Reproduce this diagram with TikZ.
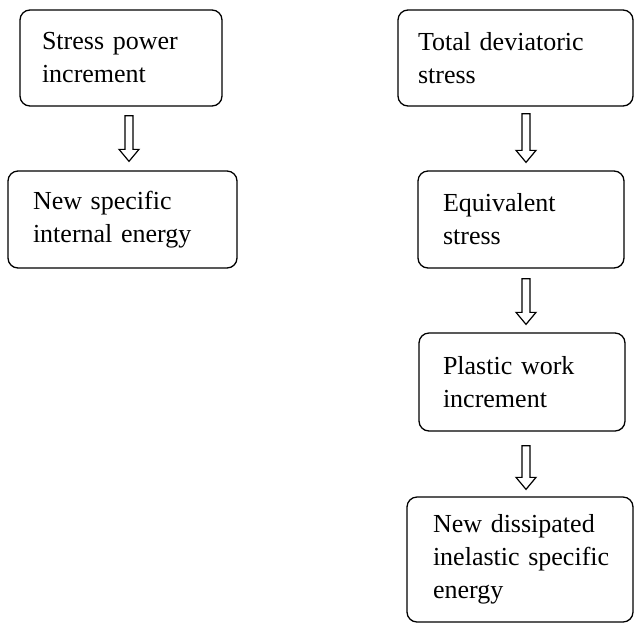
\documentclass[tikz,border=0pt]{standalone}
\usepackage{fontspec}
\setmainfont{Liberation Serif}
\usetikzlibrary{calc}
\newcommand\harrow[2]{%
  \draw[harrowline] let \p1=(#1), \p2=(#2) in
    (\x1-4pt,\y1) -- (\x1-4pt,\y2+12pt) -- (\x1-10pt,\y2+12pt) -- (\x1,\y2)
    -- (\x1+10pt,\y2+12pt) -- (\x1+4pt,\y2+12pt) -- (\x1+4pt,\y1) -- cycle;}
\begin{document}
\begin{tikzpicture}[x=1pt,y=-1pt,
  box/.style={draw, line width=1.3pt, rounded corners=10pt, align=left,
    font=\fontsize{26}{33}\selectfont},
  harrowline/.style={draw, line width=1.2pt, line join=miter}]
\useasboundingbox (0,0) rectangle (636,633);
\node[box, minimum width=202, minimum height=96, text width=158, inner xsep=22] (b1) at (121,58) {\mbox{Stress power}\\\mbox{increment}};
\node[box, minimum width=229, minimum height=97, text width=179, inner xsep=25] (b2) at (122.5,219.5) {\mbox{New specific}\\\mbox{internal energy}};
\node[box, minimum width=235, minimum height=96, text width=195, inner xsep=20] (b3) at (515.5,58) {\mbox{Total deviatoric}\\\mbox{stress}};
\node[box, minimum width=206, minimum height=97, text width=156, inner xsep=25] (b4) at (521,219.5) {\mbox{Equivalent}\\\mbox{stress}};
\node[box, minimum width=206, minimum height=98, text width=158, inner xsep=24] (b5) at (522,382) {\mbox{Plastic work}\\\mbox{increment}};
\node[box, minimum width=226, minimum height=125, text width=174, inner xsep=26] (b6) at (520,559.5) {\mbox{New dissipated}\\\mbox{inelastic specific}\\\mbox{energy}};
\coordinate (a1s) at ($(b1.south)+(8,9)$);
\coordinate (a1e) at ($(b2.north)+(6.5,-9)$);
\coordinate (a2s) at ($(b3.south)+(10.5,7)$);
\coordinate (a2e) at ($(b4.north)+(5,-8)$);
\coordinate (a3s) at ($(b4.south)+(5,10)$);
\coordinate (a3e) at ($(b5.north)+(4,-8)$);
\coordinate (a4s) at ($(b5.south)+(4,14)$);
\coordinate (a4e) at ($(b6.north)+(6,-7)$);
\harrow{a1s}{a1e}
\harrow{a2s}{a2e}
\harrow{a3s}{a3e}
\harrow{a4s}{a4e}
\end{tikzpicture}
\end{document}
